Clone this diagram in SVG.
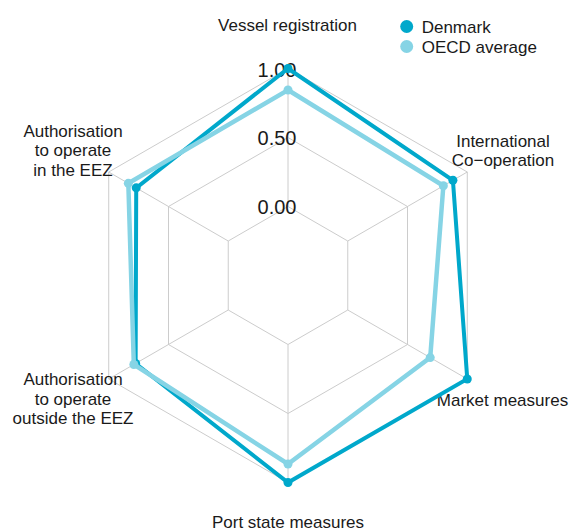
<svg xmlns="http://www.w3.org/2000/svg" width="571" height="532" viewBox="0 0 571 532">
<style>
.grid{fill:none;stroke:#cccccc;stroke-width:1}
.lbl{font-family:"Liberation Sans",Arial,sans-serif;font-size:17px;fill:#1a1a1a;text-anchor:middle}
.tick{font-family:"Liberation Sans",Arial,sans-serif;font-size:20px;fill:#1a1a1a;text-anchor:middle}
.leg{font-family:"Liberation Sans",Arial,sans-serif;font-size:17px;fill:#1a1a1a}
.dk{fill:none;stroke:#00a8cb;stroke-width:4;stroke-linejoin:miter}
.oe{fill:none;stroke:#86d4e5;stroke-width:4.5;stroke-linejoin:miter}
.dkd{fill:#00a8cb}
.oed{fill:#86d4e5}
</style>
<rect width="571" height="532" fill="#ffffff"/>
<g id="grid">
<polygon class="grid" points="288,68.5 467.27,172 467.27,379 288,482.5 108.73,379 108.73,172"/>
<polygon class="grid" points="288,137.5 407.51,206.5 407.51,344.5 288,413.5 168.49,344.5 168.49,206.5"/>
<polygon class="grid" points="288,206.5 347.76,241 347.76,310 288,344.5 228.24,310 228.24,241"/>
<line class="grid" x1="288" y1="206.5" x2="288" y2="68.5"/>
<line class="grid" x1="347.76" y1="241" x2="467.27" y2="172"/>
<line class="grid" x1="347.76" y1="310" x2="467.27" y2="379"/>
<line class="grid" x1="288" y1="344.5" x2="288" y2="482.5"/>
<line class="grid" x1="228.24" y1="310" x2="108.73" y2="379"/>
<line class="grid" x1="228.24" y1="241" x2="108.73" y2="172"/>
</g>
<g id="ticks">
<text class="tick" x="277" y="76.5">1.00</text>
<text class="tick" x="277" y="145">0.50</text>
<text class="tick" x="277" y="214">0.00</text>
</g>
<g id="axis-vessel-registration"><text class="lbl" x="287.5" y="30.5">Vessel registration</text></g>
<g id="axis-international-cooperation"><text class="lbl" x="503" y="146.5">International</text><text class="lbl" x="503" y="166">Co−operation</text></g>
<g id="axis-market-measures"><text class="lbl" x="502.5" y="406">Market measures</text></g>
<g id="axis-port-state-measures"><text class="lbl" x="288" y="528">Port state measures</text></g>
<g id="axis-authorisation-outside"><text class="lbl" x="73" y="385">Authorisation</text><text class="lbl" x="73" y="404.5">to operate</text><text class="lbl" x="73" y="424">outside the EEZ</text></g>
<g id="axis-authorisation-in"><text class="lbl" x="73" y="136.5">Authorisation</text><text class="lbl" x="73" y="156">to operate</text><text class="lbl" x="73" y="175.5">in the EEZ</text></g>
<g id="connectors">
<g id="series-denmark">
<polygon class="dk" points="288,68.5 452.92,180.28 467.27,379 288,482.5 135.63,363.48 136.22,187.87"/>
<circle class="dkd" cx="288" cy="68.5" r="4.5"/>
<circle class="dkd" cx="452.92" cy="180.28" r="4.5"/>
<circle class="dkd" cx="467.27" cy="379" r="4.5"/>
<circle class="dkd" cx="288" cy="482.5" r="4.5"/>
<circle class="dkd" cx="135.63" cy="363.48" r="4.5"/>
<circle class="dkd" cx="136.22" cy="187.87" r="4.5"/>
</g>
<g id="series-oecd">
<polygon class="oe" points="288,90.03 443.36,185.8 430.22,357.61 288,464 133.83,364.51 128.33,183.32"/>
<circle class="oed" cx="288" cy="90.03" r="4.5"/>
<circle class="oed" cx="443.36" cy="185.8" r="4.5"/>
<circle class="oed" cx="430.22" cy="357.61" r="4.5"/>
<circle class="oed" cx="288" cy="464" r="4.5"/>
<circle class="oed" cx="133.83" cy="364.51" r="4.5"/>
<circle class="oed" cx="128.33" cy="183.32" r="4.5"/>
</g>
</g>
<g id="legend">
<circle class="dkd" cx="406.7" cy="26.5" r="6.5"/>
<text class="leg" x="421.7" y="33">Denmark</text>
<circle class="oed" cx="406.7" cy="46.5" r="6.5"/>
<text class="leg" x="421.7" y="53">OECD average</text>
</g>
</svg>
